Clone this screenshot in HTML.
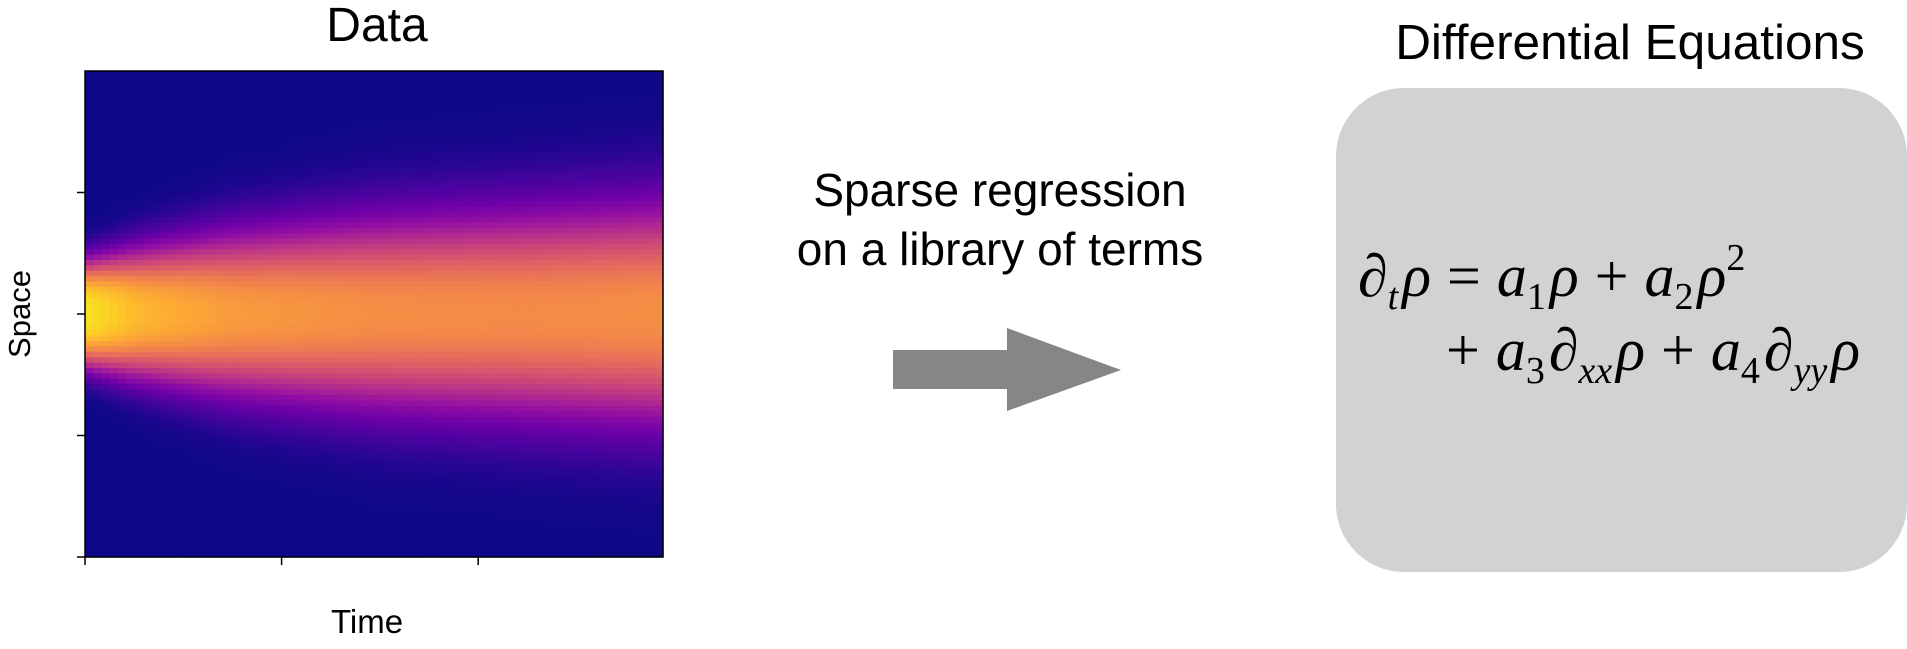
<!DOCTYPE html>
<html><head><meta charset="utf-8"><style>
body{margin:0;background:#fff;width:1907px;height:649px;overflow:hidden;position:relative;font-family:"Liberation Sans",sans-serif}
.t{position:absolute;white-space:nowrap;color:#000}
.eq{position:absolute;font-family:"Liberation Serif",serif;font-size:60px;white-space:nowrap;color:#000}
.eq i{font-style:italic}
.eq b{font-weight:normal;margin:0 16px}
.eq sub{font-size:38px;vertical-align:-13px;line-height:0;margin-right:4px}
.eq sup{font-size:38px;vertical-align:26px;line-height:0}
</style></head><body>
<div class="t" style="left:0;width:754px;text-align:center;top:-2px;font-size:48px">Data</div>
<div class="t" style="left:20px;top:314px;font-size:31px;transform:translate(-50%,-50%) rotate(-90deg)">Space</div>
<div class="t" style="left:367px;top:603px;font-size:33px;transform:translateX(-50%)">Time</div>
<svg id="hm" width="700" height="649" style="position:absolute;left:0;top:0"></svg>
<div class="t" style="left:1000px;top:161px;font-size:46px;text-align:center;transform:translateX(-50%);line-height:59px">Sparse regression<br>on a library of terms</div>
<svg width="1907" height="649" style="position:absolute;left:0;top:0">
<rect x="893" y="350" width="118" height="39" fill="#858687"/>
<polygon points="1007,328 1121,370 1007,411" fill="#858687"/>
</svg>
<div class="t" style="left:1630px;top:14px;font-size:49.5px;transform:translateX(-50%)">Differential Equations</div>
<div style="position:absolute;left:1336px;top:88px;width:571px;height:484px;background:#d1d2d4;border-radius:68px"></div>
<div class="eq" style="left:1358px;top:242px">∂<sub><i>t</i></sub><i>ρ</i><b>=</b><i>a</i><sub>1</sub><i>ρ</i><b>+</b><i>a</i><sub>2</sub><i>ρ</i><sup>2</sup></div>
<div class="eq" style="left:1446px;top:316px"><b style="margin-left:0">+</b><i>a</i><sub>3</sub>∂<sub><i>xx</i></sub><i>ρ</i><b>+</b><i>a</i><sub>4</sub>∂<sub><i>yy</i></sub><i>ρ</i></div>
<script>
const timeSamples=[0,0.1,0.25,0.5,0.75,1];
const bandWidth=[0.11,0.135,0.165,0.195,0.21,0.225];
const peakValue=[0.95,0.84,0.77,0.73,0.72,0.73];
const shapeExp=[3.0,2.6,2.4,2.3,2.3,2.3];
const xTickLabels=["","",""];
const yTickLabels=["","","",""];
const NC=70,NR=90;
const L=85,R=663,T=71,B=557;
const plasma=["#0d0887","#41049d","#6a00a8","#8f0da4","#b12a90","#cc4778","#e16462","#f2844b","#fca636","#fcce25","#f0f921"];
function hx(c){return [parseInt(c.slice(1,3),16),parseInt(c.slice(3,5),16),parseInt(c.slice(5,7),16)]}
const pc=plasma.map(hx);
function cmap(v){v=Math.max(0,Math.min(1,v))*10;const i=Math.min(9,Math.floor(v)),f=v-i;const a=pc[i],b=pc[i+1];return `rgb(${a.map((x,k)=>Math.round(x+(b[k]-x)*f)).join(',')})`}
function interp(arr,t){for(let i=0;i<timeSamples.length-1;i++){if(t<=timeSamples[i+1]){const f=(t-timeSamples[i])/(timeSamples[i+1]-timeSamples[i]);return arr[i]+(arr[i+1]-arr[i])*f}}return arr[arr.length-1]}
const xs=t=>L+t*(R-L), ys=s=>T+s*(B-T);
const svg=document.getElementById('hm');const NS="http://www.w3.org/2000/svg";
const g=document.createElementNS(NS,'g');


svg.appendChild(g);
const cw=(R-L)/NC,ch=(B-T)/NR;
for(let c=0;c<NC;c++){const t=(c+0.5)/NC;const s=interp(bandWidth,t),p=interp(peakValue,t),e=interp(shapeExp,t);
for(let r=0;r<NR;r++){const y=(r+0.5)/NR;const d=Math.abs(y-0.5);const v=p*Math.exp(-Math.pow(d/s,e));
const rc=document.createElementNS(NS,'rect');


rc.setAttribute('x',(xs(c/NC)).toFixed(2));rc.setAttribute('y',(ys(r/NR)).toFixed(2));
rc.setAttribute('width',(cw+0.6).toFixed(2));rc.setAttribute('height',(ch+0.6).toFixed(2));
rc.setAttribute('fill',cmap(v));g.appendChild(rc);}}
const fr=document.createElementNS(NS,'rect');


fr.setAttribute('x',L);fr.setAttribute('y',T);fr.setAttribute('width',R-L);fr.setAttribute('height',B-T);fr.setAttribute('fill','none');fr.setAttribute('stroke','#000');fr.setAttribute('stroke-width','1.5');svg.appendChild(fr);
xTickLabels.forEach((lb,i)=>{const x=xs(i/2.94);const ln=document.createElementNS(NS,'line');


ln.setAttribute('x1',x);ln.setAttribute('x2',x);ln.setAttribute('y1',B);ln.setAttribute('y2',B+8);ln.setAttribute('stroke','#000');ln.setAttribute('stroke-width','1.5');svg.appendChild(ln);});
yTickLabels.forEach((lb,i)=>{const y=ys(0.25+i*0.25);const ln=document.createElementNS(NS,'line');


ln.setAttribute('x1',L-8);ln.setAttribute('x2',L);ln.setAttribute('y1',y);ln.setAttribute('y2',y);ln.setAttribute('stroke','#000');ln.setAttribute('stroke-width','1.5');svg.appendChild(ln);});
</script>
</body></html>
